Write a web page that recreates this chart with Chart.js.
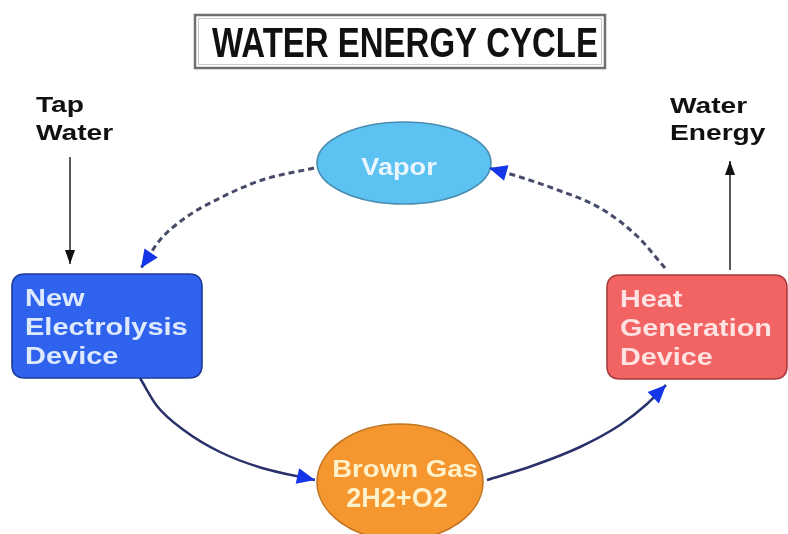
<!DOCTYPE html>
<html>
<head>
<meta charset="utf-8">
<script src="https://cdn.jsdelivr.net/npm/chart.js@4"></script>
<style>
  html, body { margin: 0; padding: 0; background: #ffffff; }
  #wrap { width: 788px; height: 534px; }
</style>
</head>
<body>
<div id="wrap"><canvas id="c" width="788" height="534"></canvas></div>
<script>
// ---------------- DATA ----------------
const titleText = 'WATER ENERGY CYCLE';

// process nodes (diagram coordinates: x 0..788, y 0..534 top-down)
const nodeLines = [['New', 'Electrolysis', 'Device'], ['Vapor'], ['Heat', 'Generation', 'Device'], ['Brown Gas', '2H2+O2']];
const nodeX = [107, 404, 697, 400];
const nodeY = [326, 163, 327, 482];
const nodeShape = ['box', 'ellipse', 'box', 'ellipse'];

// external input / output labels
const inputLabel = ['Tap', 'Water'];
const outputLabel = ['Water', 'Energy'];

// flows between nodes (points read along each arrow, last point = arrow tip)
const flowVaporToElecX = [314, 262, 220, 185, 160, 141];
const flowVaporToElecY = [168, 180, 198, 218, 240, 268];
const flowHeatToVaporX = [665, 637, 600, 555, 520, 489];
const flowHeatToVaporY = [268, 236, 208, 189, 177, 168];
const flowElecToGasX = [140, 157, 185, 220, 262, 315];
const flowElecToGasY = [378, 406, 431, 452, 468, 480];
const flowGasToHeatX = [487, 532, 580, 620, 647, 666];
const flowGasToHeatY = [480, 466, 447, 425, 404, 385];
const flowInputX = [70, 70];
const flowInputY = [157, 264];
const flowOutputX = [730, 730];
const flowOutputY = [270, 161];

// ---------------- STYLES ----------------
const FONT = '"Liberation Sans", Arial, sans-serif';
const nodeStyle = [
  { w: 190, h: 104, r: 13, fill: '#2f63ee', stroke: '#1c3a98', text: '#dde9ff', size: 23, stretch: 1.26, lh: 29 },
  { rx: 87, ry: 41, fill: '#5cc2f2', stroke: '#4a8db0', text: '#e9f6ff', size: 23, stretch: 1.18 },
  { w: 180, h: 104, r: 13, fill: '#f26464', stroke: '#a83a3a', text: '#ffe2e2', size: 23, stretch: 1.25, lh: 29 },
  { rx: 83, ry: 58, fill: '#f6962f', stroke: '#c27624', text: '#fff1c9', size: 23, stretch: 1.2 }
];
const dashedColor = '#474b6a';
const solidColor = '#29316b';
const headColor = '#1535e8';

function pts(xs, ys) { return xs.map((x, i) => ({ x: x, y: ys[i] })); }

const flowDefs = [
  { data: pts(flowVaporToElecX, flowVaporToElecY), color: dashedColor, width: 3, dash: [6, 4], head: headColor, hl: 18, hw: 8 },
  { data: pts(flowHeatToVaporX, flowHeatToVaporY), color: dashedColor, width: 3, dash: [6, 4], head: headColor, hl: 18, hw: 8 },
  { data: pts(flowElecToGasX, flowElecToGasY), color: solidColor, width: 2.5, dash: [], head: headColor, hl: 18, hw: 8 },
  { data: pts(flowGasToHeatX, flowGasToHeatY), color: solidColor, width: 2.5, dash: [], head: headColor, hl: 18, hw: 8 },
  { data: pts(flowInputX, flowInputY), color: '#222222', width: 1.5, dash: [], head: '#111111', hl: 14, hw: 5 },
  { data: pts(flowOutputX, flowOutputY), color: '#222222', width: 1.5, dash: [], head: '#111111', hl: 14, hw: 5 }
];

function drawText(ctx, str, x, y, size, stretch, color, align) {
  ctx.save();
  ctx.font = 'bold ' + size + 'px ' + FONT;
  ctx.fillStyle = color;
  ctx.textAlign = align || 'left';
  ctx.textBaseline = 'alphabetic';
  ctx.translate(x, y);
  ctx.scale(stretch, 1);
  ctx.fillText(str, 0, 0);
  ctx.restore();
}

function roundRect(ctx, x, y, w, h, r) {
  ctx.beginPath();
  ctx.moveTo(x + r, y);
  ctx.lineTo(x + w - r, y);
  ctx.quadraticCurveTo(x + w, y, x + w, y + r);
  ctx.lineTo(x + w, y + h - r);
  ctx.quadraticCurveTo(x + w, y + h, x + w - r, y + h);
  ctx.lineTo(x + r, y + h);
  ctx.quadraticCurveTo(x, y + h, x, y + h - r);
  ctx.lineTo(x, y + r);
  ctx.quadraticCurveTo(x, y, x + r, y);
  ctx.closePath();
}

const diagramPlugin = {
  id: 'diagram',
  afterDatasetsDraw(chart) {
    const ctx = chart.ctx;
    const sx = chart.scales.x, sy = chart.scales.y;
    const X = v => sx.getPixelForValue(v);
    const Y = v => sy.getPixelForValue(v);

    // title box
    ctx.save();
    ctx.strokeStyle = '#6f6f6f';
    ctx.lineWidth = 2.5;
    ctx.strokeRect(X(195), Y(15), X(605) - X(195), Y(68) - Y(15));
    ctx.strokeStyle = '#c8c8c8';
    ctx.lineWidth = 1;
    ctx.strokeRect(X(198.5), Y(18.5), X(601.5) - X(198.5), Y(64.5) - Y(18.5));
    ctx.font = 'bold 42px ' + FONT;
    const tw = ctx.measureText(titleText).width;
    ctx.restore();
    drawText(ctx, titleText, X(405), Y(57), 42, 386 / tw, '#111111', 'center');

    // nodes
    nodeShape.forEach((shape, i) => {
      const st = nodeStyle[i];
      const cx = X(nodeX[i]), cy = Y(nodeY[i]);
      ctx.save();
      ctx.fillStyle = st.fill;
      ctx.strokeStyle = st.stroke;
      ctx.lineWidth = 1.6;
      if (shape === 'box') {
        roundRect(ctx, cx - st.w / 2, cy - st.h / 2, st.w, st.h, st.r);
      } else {
        ctx.beginPath();
        ctx.ellipse(cx, cy, st.rx, st.ry, 0, 0, Math.PI * 2);
      }
      ctx.fill();
      ctx.stroke();
      ctx.restore();
      const lines = nodeLines[i];
      if (shape === 'box') {
        lines.forEach((t, k) => {
          drawText(ctx, t, cx - st.w / 2 + 13, cy - 20 + k * st.lh, st.size, st.stretch, st.text, 'left');
        });
      } else if (lines.length === 1) {
        drawText(ctx, lines[0], cx - 5, cy + 12, st.size, st.stretch, st.text, 'center');
      } else {
        drawText(ctx, lines[0], cx + 5, cy - 5, st.size, st.stretch, st.text, 'center');
        drawText(ctx, lines[1], cx - 3, cy + 25, 27, 1.0, st.text, 'center');
      }
    });

    // arrowheads at the end of every flow
    chart.data.datasets.forEach((ds, di) => {
      const meta = chart.getDatasetMeta(di);
      const n = meta.data.length;
      const tip = meta.data[n - 1];
      let bx = meta.data[n - 2].x, by = meta.data[n - 2].y;
      if (tip.cp1x !== undefined && (Math.abs(tip.cp1x - tip.x) + Math.abs(tip.cp1y - tip.y)) > 0.5) {
        bx = tip.cp1x; by = tip.cp1y;
      }
      const ang = Math.atan2(tip.y - by, tip.x - bx);
      const f = flowDefs[di];
      ctx.save();
      ctx.translate(tip.x, tip.y);
      ctx.rotate(ang);
      ctx.fillStyle = f.head;
      ctx.beginPath();
      ctx.moveTo(0, 0);
      ctx.lineTo(-f.hl, -f.hw);
      ctx.lineTo(-f.hl, f.hw);
      ctx.closePath();
      ctx.fill();
      ctx.restore();
    });

    // external labels
    inputLabel.forEach((t, k) => drawText(ctx, t, X(36), Y(112 + k * 28), 22, 1.28, '#111111', 'left'));
    outputLabel.forEach((t, k) => drawText(ctx, t, X(670), Y(113 + k * 27), 22, 1.28, '#111111', 'left'));
  }
};

new Chart(document.getElementById('c'), {
  type: 'scatter',
  data: {
    datasets: flowDefs.map(f => ({
      data: f.data,
      showLine: true,
      borderColor: f.color,
      borderWidth: f.width,
      borderDash: f.dash,
      tension: 0.3,
      cubicInterpolationMode: 'monotone',
      pointRadius: 0,
      pointHoverRadius: 0,
      fill: false
    }))
  },
  options: {
    responsive: false,
    animation: false,
    layout: { padding: 0 },
    plugins: { legend: { display: false }, tooltip: { enabled: false } },
    scales: {
      x: { type: 'linear', min: 0, max: 788, display: false },
      y: { type: 'linear', min: 0, max: 534, reverse: true, display: false }
    }
  },
  plugins: [diagramPlugin]
});
</script>
</body>
</html>
